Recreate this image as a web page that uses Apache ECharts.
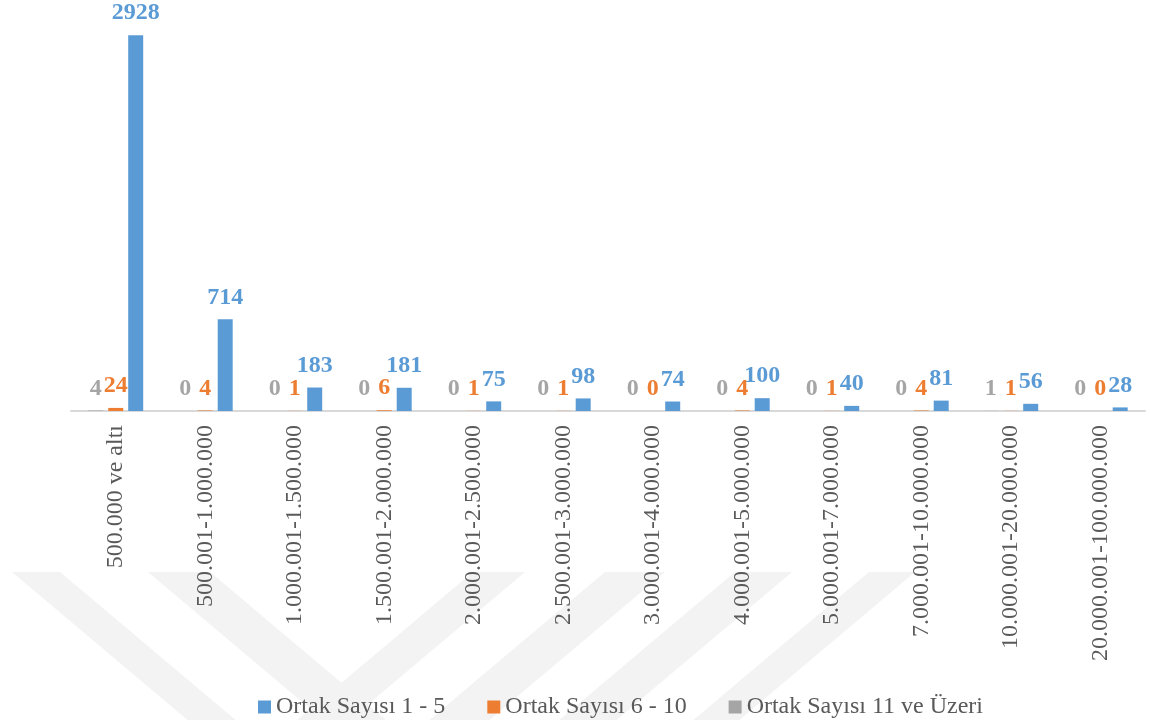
<!DOCTYPE html>
<html>
<head>
<meta charset="utf-8">
<script src="https://cdn.jsdelivr.net/npm/echarts@6/dist/echarts.min.js"></script>
<style>
  html, body { margin: 0; padding: 0; background: #ffffff; }
  #chart { width: 1150px; height: 720px; }
</style>
</head>
<body>
<div id="chart"></div>
<script>
// Sermaye aralıkları (TL)
const categories = [
  '500.000 ve altı', '500.001-1.000.000', '1.000.001-1.500.000', '1.500.001-2.000.000',
  '2.000.001-2.500.000', '2.500.001-3.000.000', '3.000.001-4.000.000', '4.000.001-5.000.000',
  '5.000.001-7.000.000', '7.000.001-10.000.000', '10.000.001-20.000.000', '20.000.001-100.000.000'
];

// Ortak sayısına göre şirket adetleri
const ortak1to5   = [2928, 714, 183, 181, 75, 98, 74, 100, 40, 81, 56, 28];
const ortak6to10  = [24, 4, 1, 6, 1, 1, 0, 4, 1, 4, 1, 0];
const ortak11plus = [4, 0, 0, 0, 0, 0, 0, 0, 0, 0, 1, 0];

const seriesNames = ['Ortak Sayısı 1 - 5', 'Ortak Sayısı 6 - 10', 'Ortak Sayısı 11 ve Üzeri'];
const colors = { blue: '#5b9bd5', orange: '#ed7d31', gray: '#a5a5a5' };

const serif = 'Liberation Serif';

// Soluk arka plan filigranı (şerit çokgenleri)
const bandTop = 572, bandBottom = 722;
const bands = [
  [[12, 60], [190, 238]],
  [[148, 210], [326, 388]],
  [[473, 525], [295, 347]],
  [[605, 665], [427, 487]],
  [[735, 792], [557, 614]],
  [[869, 915], [691, 737]]
];
const watermark = bands.map(b => ({
  type: 'polygon',
  silent: true,
  z: -10,
  shape: { points: [[b[0][0], bandTop], [b[0][1], bandTop], [b[1][1], bandBottom], [b[1][0], bandBottom]] },
  style: { fill: '#f3f3f3' }
}));

function barSeries(name, data, color) {
  return {
    name: name,
    type: 'bar',
    data: data,
    barWidth: 15,
    barGap: '33%',
    itemStyle: { color: color },
    label: {
      show: true,
      position: 'top',
      distance: 10,
      color: color,
      fontFamily: serif,
      fontWeight: 'bold',
      fontSize: 24
    }
  };
}

const chart = echarts.init(document.getElementById('chart'), null, { renderer: 'canvas' });
chart.setOption({
  backgroundColor: '#ffffff',
  animation: false,
  graphic: watermark,
  grid: { left: 71, right: 5, top: 26, bottom: 309, containLabel: false },
  legend: {
    data: seriesNames,
    top: 690,
    left: 253,
    itemWidth: 13,
    itemHeight: 13,
    itemGap: 42,
    icon: 'rect',
    textStyle: { fontFamily: serif, fontSize: 24, color: '#595959' }
  },
  xAxis: {
    type: 'category',
    data: categories,
    axisLine: { show: true, lineStyle: { color: '#d9d9d9', width: 2 } },
    axisTick: { show: false },
    axisLabel: {
      interval: 0,
      rotate: 90,
      margin: 14,
      fontFamily: serif,
      fontSize: 24,
      color: '#595959'
    }
  },
  yAxis: {
    type: 'value',
    min: 0,
    max: 3000,
    show: false,
    splitLine: { show: false }
  },
  series: [
    barSeries(seriesNames[2], ortak11plus, colors.gray),
    barSeries(seriesNames[1], ortak6to10, colors.orange),
    barSeries(seriesNames[0], ortak1to5, colors.blue)
  ]
});
</script>
</body>
</html>
